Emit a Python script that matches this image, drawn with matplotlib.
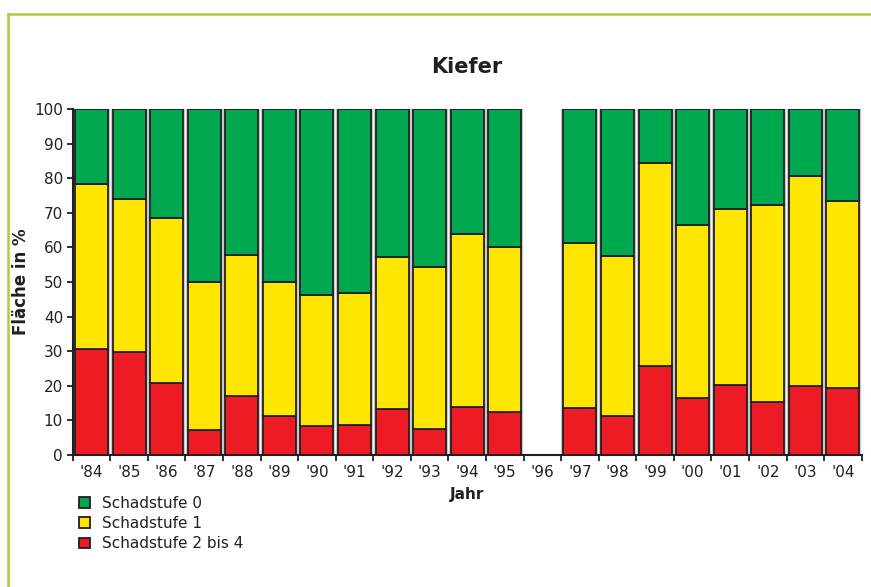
import numpy as np
import matplotlib.pyplot as plt

# Daten, 1996 ohne Erhebung
jahre = ["'84", "'85", "'86", "'87", "'88", "'89", "'90", "'91", "'92", "'93", "'94",
         "'95", "'96", "'97", "'98", "'99", "'00", "'01", "'02", "'03", "'04"]
stufe_2_4 = [30.6, 29.9, 20.7, 7.3, 17.1, 11.4, 8.5, 8.8, 13.3, 7.5, 13.8,
             12.4, np.nan, 13.5, 11.3, 25.7, 16.6, 20.2, 15.3, 19.9, 19.5]
stufe_1 = [47.7, 44.1, 47.9, 42.8, 40.7, 38.6, 37.8, 38.1, 43.9, 46.9, 50.0,
           47.7, np.nan, 47.8, 46.1, 58.8, 49.8, 51.0, 57.0, 60.8, 54.0]
stufe_0 = [21.7, 26.0, 31.4, 49.9, 42.2, 50.0, 53.7, 53.1, 42.8, 45.6, 36.2,
           39.9, np.nan, 38.7, 42.6, 15.5, 33.6, 28.8, 27.7, 19.3, 26.5]

farben = ['#00a84f', '#ffe600', '#ed1c24']  # Stufe 0, 1, 2-4
namen = ['Schadstufe 0', 'Schadstufe 1', 'Schadstufe 2 bis 4']

plt.rcParams['font.family'] = ['DejaVu Sans']

fig = plt.figure(figsize=(8.71, 5.87), dpi=100)
ax = fig.add_axes([0.0835, 0.2249, 0.9058, 0.5894])

x = np.arange(len(jahre))
s24 = np.array(stufe_2_4)
s1 = np.array(stufe_1)
s0 = np.array(stufe_0)
breite = 0.88

# heller Rand um die Balken
for unten, wert in [(0, s24), (s24, s1), (s24 + s1, s0)]:
    ax.bar(x, wert, breite, bottom=unten, color='none', edgecolor='#c8c8c8', linewidth=3, zorder=1)

b2 = ax.bar(x, s24, breite, color=farben[2], edgecolor='#231f20', linewidth=1.3, zorder=2)
b1 = ax.bar(x, s1, breite, bottom=s24, color=farben[1], edgecolor='#231f20', linewidth=1.3, zorder=2)
b0 = ax.bar(x, s0, breite, bottom=s24 + s1, color=farben[0], edgecolor='#231f20', linewidth=1.3, zorder=2)

ax.set_xlim(-0.5, len(jahre) - 0.5)
ax.set_ylim(0, 100)
ax.set_yticks(range(0, 101, 10))
ax.tick_params(axis='y', labelsize=11, length=4, width=1.3, color='#231f20', labelcolor='#231f20', pad=3)

# Ticks zwischen den Jahren, Beschriftung in der Mitte
ax.set_xticks(np.arange(-0.5, len(jahre), 1.0))
ax.set_xticklabels([])
ax.set_xticks(x, minor=True)
ax.set_xticklabels(jahre, minor=True)
ax.tick_params(axis='x', which='major', length=4, width=1.3, color='#231f20')
ax.tick_params(axis='x', which='minor', length=0, labelsize=11, labelcolor='#231f20', pad=7)

for s in ['top', 'right']:
    ax.spines[s].set_visible(False)
for s in ['left', 'bottom']:
    ax.spines[s].set_linewidth(1.5)
    ax.spines[s].set_color('#231f20')
    ax.spines[s].set_zorder(3)

ax.set_title('Kiefer', fontsize=15, fontweight='bold', color='#231f20', pad=26)
ax.set_ylabel('Fläche in %', fontsize=12, fontweight='bold', color='#231f20')
ax.yaxis.set_label_coords(-0.054, 0.5)
ax.set_xlabel('Jahr', fontsize=11, fontweight='bold', color='#231f20', labelpad=5)

leg = ax.legend([b0, b1, b2], namen, loc='upper left', bbox_to_anchor=(0.0, -0.1),
                frameon=False, fontsize=11, handlelength=0.7, handleheight=0.7,
                handletextpad=0.8, labelspacing=0.35, borderaxespad=0)
for t in leg.get_texts():
    t.set_color('#231f20')

# grüner Rahmen oben und links
fig.add_artist(plt.Line2D([8 / 871, 1.0], [1 - 14 / 587, 1 - 14 / 587], color='#a8d03a', linewidth=1.8))
fig.add_artist(plt.Line2D([8 / 871, 8 / 871], [0.0, 1 - 14 / 587], color='#a8d03a', linewidth=1.8))

fig.savefig('out.png', dpi=100)
